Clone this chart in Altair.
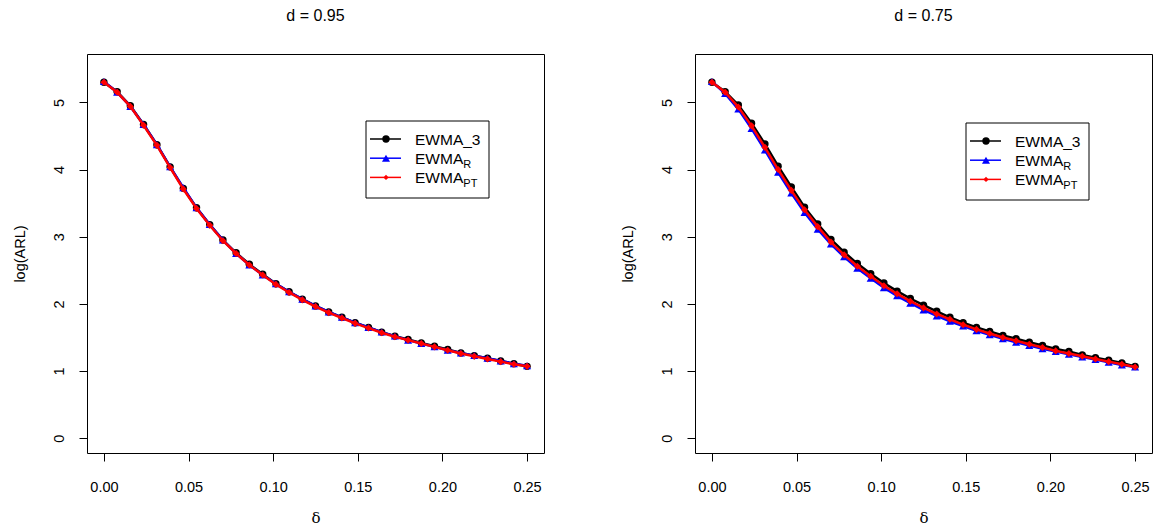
import altair as alt
import pandas as pd

delta = [0.0, 0.0078, 0.0156, 0.0234, 0.0313, 0.0391, 0.0469, 0.0547, 0.0625, 0.0703,
         0.0781, 0.0859, 0.0938, 0.1016, 0.1094, 0.1172, 0.125, 0.1328, 0.1406, 0.1484,
         0.1563, 0.1641, 0.1719, 0.1797, 0.1875, 0.1953, 0.2031, 0.2109, 0.2188, 0.2266,
         0.2344, 0.2422, 0.25]

# panel d = 0.95
left_ewma3 = [5.30, 5.16, 4.95, 4.67, 4.37, 4.04, 3.72, 3.43, 3.18, 2.95, 2.76, 2.59, 2.44, 2.30, 2.18, 2.07,
              1.97, 1.88, 1.80, 1.72, 1.65, 1.58, 1.52, 1.47, 1.42, 1.37, 1.32, 1.27, 1.23, 1.19, 1.15, 1.11, 1.07]
left_ewmaR = [5.31, 5.15, 4.94, 4.67, 4.37, 4.04, 3.73, 3.43, 3.18, 2.95, 2.75, 2.58, 2.43, 2.30, 2.18, 2.07,
              1.97, 1.88, 1.80, 1.72, 1.65, 1.58, 1.52, 1.46, 1.41, 1.36, 1.31, 1.27, 1.23, 1.19, 1.15, 1.11, 1.08]
left_ewmaPT = [5.30, 5.15, 4.94, 4.66, 4.36, 4.03, 3.71, 3.42, 3.17, 2.94, 2.75, 2.58, 2.43, 2.29, 2.17, 2.06,
               1.96, 1.87, 1.79, 1.71, 1.64, 1.57, 1.51, 1.46, 1.41, 1.36, 1.31, 1.26, 1.22, 1.18, 1.14, 1.10, 1.07]

# panel d = 0.75
right_ewma3 = [5.30, 5.16, 4.96, 4.69, 4.38, 4.05, 3.74, 3.44, 3.19, 2.96, 2.77, 2.60, 2.45, 2.31, 2.19, 2.08,
               1.98, 1.89, 1.80, 1.72, 1.65, 1.59, 1.53, 1.48, 1.43, 1.38, 1.33, 1.29, 1.24, 1.20, 1.16, 1.12, 1.07]
right_ewmaR = [5.31, 5.13, 4.90, 4.61, 4.29, 3.96, 3.65, 3.36, 3.11, 2.89, 2.70, 2.53, 2.38, 2.24, 2.12, 2.01,
               1.91, 1.82, 1.74, 1.67, 1.60, 1.54, 1.48, 1.43, 1.38, 1.33, 1.29, 1.25, 1.21, 1.17, 1.13, 1.09, 1.06]
right_ewmaPT = [5.30, 5.15, 4.93, 4.65, 4.33, 4.00, 3.69, 3.40, 3.15, 2.92, 2.73, 2.56, 2.41, 2.27, 2.15, 2.04,
                1.94, 1.85, 1.77, 1.69, 1.62, 1.56, 1.50, 1.45, 1.40, 1.35, 1.30, 1.26, 1.22, 1.18, 1.14, 1.10, 1.06]

series_names = ["EWMA_3", "EWMA_R", "EWMA_PT"]
series_colors = ["#000000", "#0000FF", "#FF0000"]
series_shapes = ["circle", "triangle-up", "diamond"]
series_sizes = [55, 65, 50]
legend_sizes = [55, 65, 28]
legend_main = ["EWMA_3", "EWMA", "EWMA"]
legend_sub = ["", "R", "PT"]

x_ticks = [0.0, 0.05, 0.10, 0.15, 0.20, 0.25]
y_ticks = [0, 1, 2, 3, 4, 5]

W, H = 457, 399
FONT = "Liberation Sans"
TICK_FS = 14.5
LEG_FS = 15.5


def panel(title, vals_list, leg_x, leg_y):
    xenc = alt.X("delta:Q",
                 scale=alt.Scale(domain=[-0.01, 0.26], nice=False, zero=False),
                 axis=alt.Axis(values=x_ticks, format=".2f", title="δ", grid=False, domain=False,
                               tickSize=8, tickColor="black", labelFontSize=TICK_FS, labelColor="black",
                               labelFont=FONT, labelPadding=19, labelFlush=False,
                               titleFont="DejaVu Serif", titleFontSize=15, titleFontWeight="normal",
                               titleColor="black", titleY=64, titleBaseline="middle"))
    yenc = alt.Y("value:Q",
                 scale=alt.Scale(domain=[-0.22, 5.72], nice=False, zero=False),
                 axis=alt.Axis(values=y_ticks, format="d", title="log(ARL)", grid=False, domain=False,
                               tickSize=8, tickColor="black", labelFontSize=TICK_FS, labelColor="black",
                               labelFont=FONT, labelAngle=-90, labelAlign="center",
                               labelBaseline="bottom", labelPadding=13, labelFlush=False,
                               titleFont=FONT, titleFontSize=TICK_FS, titleFontWeight="normal",
                               titleColor="black", titleX=-67, titleY=H / 2, titleAngle=-90,
                               titleBaseline="middle"))
    layers = []
    for name, vals, col, shp, sz in zip(series_names, vals_list, series_colors, series_shapes, series_sizes):
        df = pd.DataFrame({"delta": delta, "value": vals, "series": name})
        base = alt.Chart(df).encode(x=xenc, y=yenc)
        layers.append(base.mark_line(color=col, strokeWidth=2.5))
        layers.append(base.mark_point(shape=shp, filled=True, color=col, size=sz, opacity=1))

    one = pd.DataFrame({"k": [0]})
    bw, bh = 123, 77
    layers.append(alt.Chart(one).mark_rect(fill="white", stroke="black", strokeWidth=1).encode(
        x=alt.value(leg_x), x2=alt.value(leg_x + bw), y=alt.value(leg_y), y2=alt.value(leg_y + bh)))
    for i, (col, shp, sz, mt, st) in enumerate(zip(series_colors, series_shapes, legend_sizes,
                                                   legend_main, legend_sub)):
        ry = leg_y + 18 + i * 19.2
        layers.append(alt.Chart(one).mark_rule(color=col, strokeWidth=1.5).encode(
            x=alt.value(leg_x + 4), x2=alt.value(leg_x + 35), y=alt.value(ry)))
        layers.append(alt.Chart(one).mark_point(shape=shp, filled=True, color=col,
                                                size=sz, opacity=1).encode(
            x=alt.value(leg_x + 20), y=alt.value(ry)))
        layers.append(alt.Chart(one).mark_text(text=mt, font=FONT, fontSize=LEG_FS, color="black",
                                               align="left", baseline="alphabetic").encode(
            x=alt.value(leg_x + 49), y=alt.value(ry + 5.5)))
        if st:
            layers.append(alt.Chart(one).mark_text(text=st, font=FONT, fontSize=11, color="black",
                                                   align="left", baseline="alphabetic").encode(
                x=alt.value(leg_x + 49 + 48.3), y=alt.value(ry + 9.5)))

    return alt.layer(*layers).properties(
        width=W, height=H,
        title=alt.TitleParams(title, fontSize=16, fontWeight="normal", font=FONT, color="black",
                              anchor="middle", offset=30))


left = panel("d = 0.95", [left_ewma3, left_ewmaR, left_ewmaPT], 279, 67)
right = panel("d = 0.75", [right_ewma3, right_ewmaR, right_ewmaPT], 271, 69)

chart = alt.hconcat(left, right, spacing=74).properties(
    padding={"left": 11, "top": 7, "right": 0, "bottom": 0}
).configure(background="white", view=alt.ViewConfig(stroke="black", strokeWidth=1))

chart.save("out.html", embed_options={"renderer": "svg", "actions": False})
